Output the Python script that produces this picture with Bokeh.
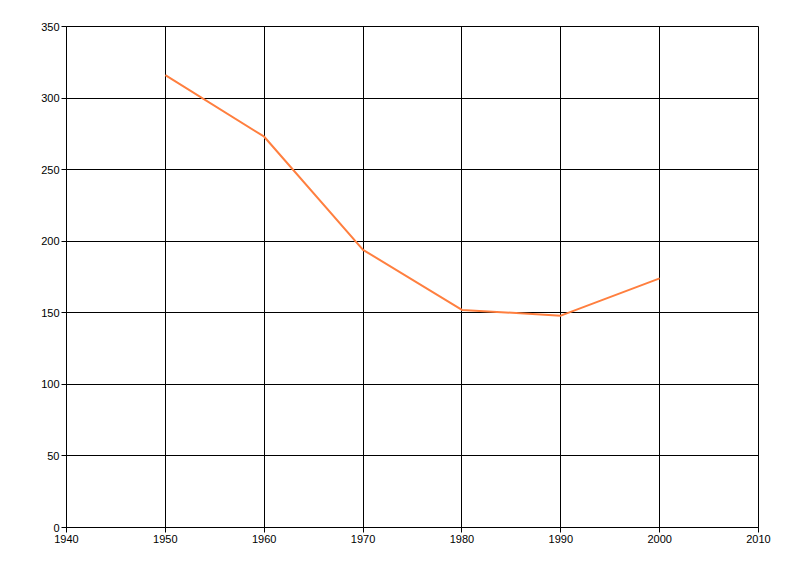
from bokeh.plotting import figure
from bokeh.models import FixedTicker, Range1d
from bokeh.embed import file_html
from bokeh.resources import INLINE

years = [1950, 1960, 1970, 1980, 1990, 2000]
values = [316, 273, 194, 152, 148, 174]
x_ticks = [1940, 1950, 1960, 1970, 1980, 1990, 2000, 2010]
y_ticks = [0, 50, 100, 150, 200, 250, 300, 350]

p = figure(width=792, height=568, output_backend="svg", toolbar_location=None,
           x_range=Range1d(1940, 2010), y_range=Range1d(0, 350),
           min_border_left=66, min_border_right=34, min_border_top=26, min_border_bottom=41)

p.line(years, values, line_color="#FF7F3F", line_width=2)

for ax in (p.xaxis, p.yaxis):
    ax.major_tick_out = 5
    ax.major_tick_in = 0
    ax.minor_tick_line_color = None
    ax.axis_line_color = "black"
    ax.major_tick_line_color = "black"
    ax.major_label_text_font = "Liberation Sans"
    ax.major_label_text_font_size = "11px"
    ax.major_label_text_color = "black"
    ax.major_label_standoff = 2

p.xaxis.ticker = FixedTicker(ticks=x_ticks)
p.yaxis.ticker = FixedTicker(ticks=y_ticks)

for g in (p.xgrid, p.ygrid):
    g.grid_line_color = "black"
    g.grid_line_width = 1
    g.grid_line_alpha = 1
p.xgrid.ticker = FixedTicker(ticks=x_ticks)
p.ygrid.ticker = FixedTicker(ticks=y_ticks)

p.outline_line_color = "black"
p.outline_line_width = 1
p.background_fill_color = "white"
p.border_fill_color = "white"

open("out.html", "w").write(file_html(p, INLINE))
